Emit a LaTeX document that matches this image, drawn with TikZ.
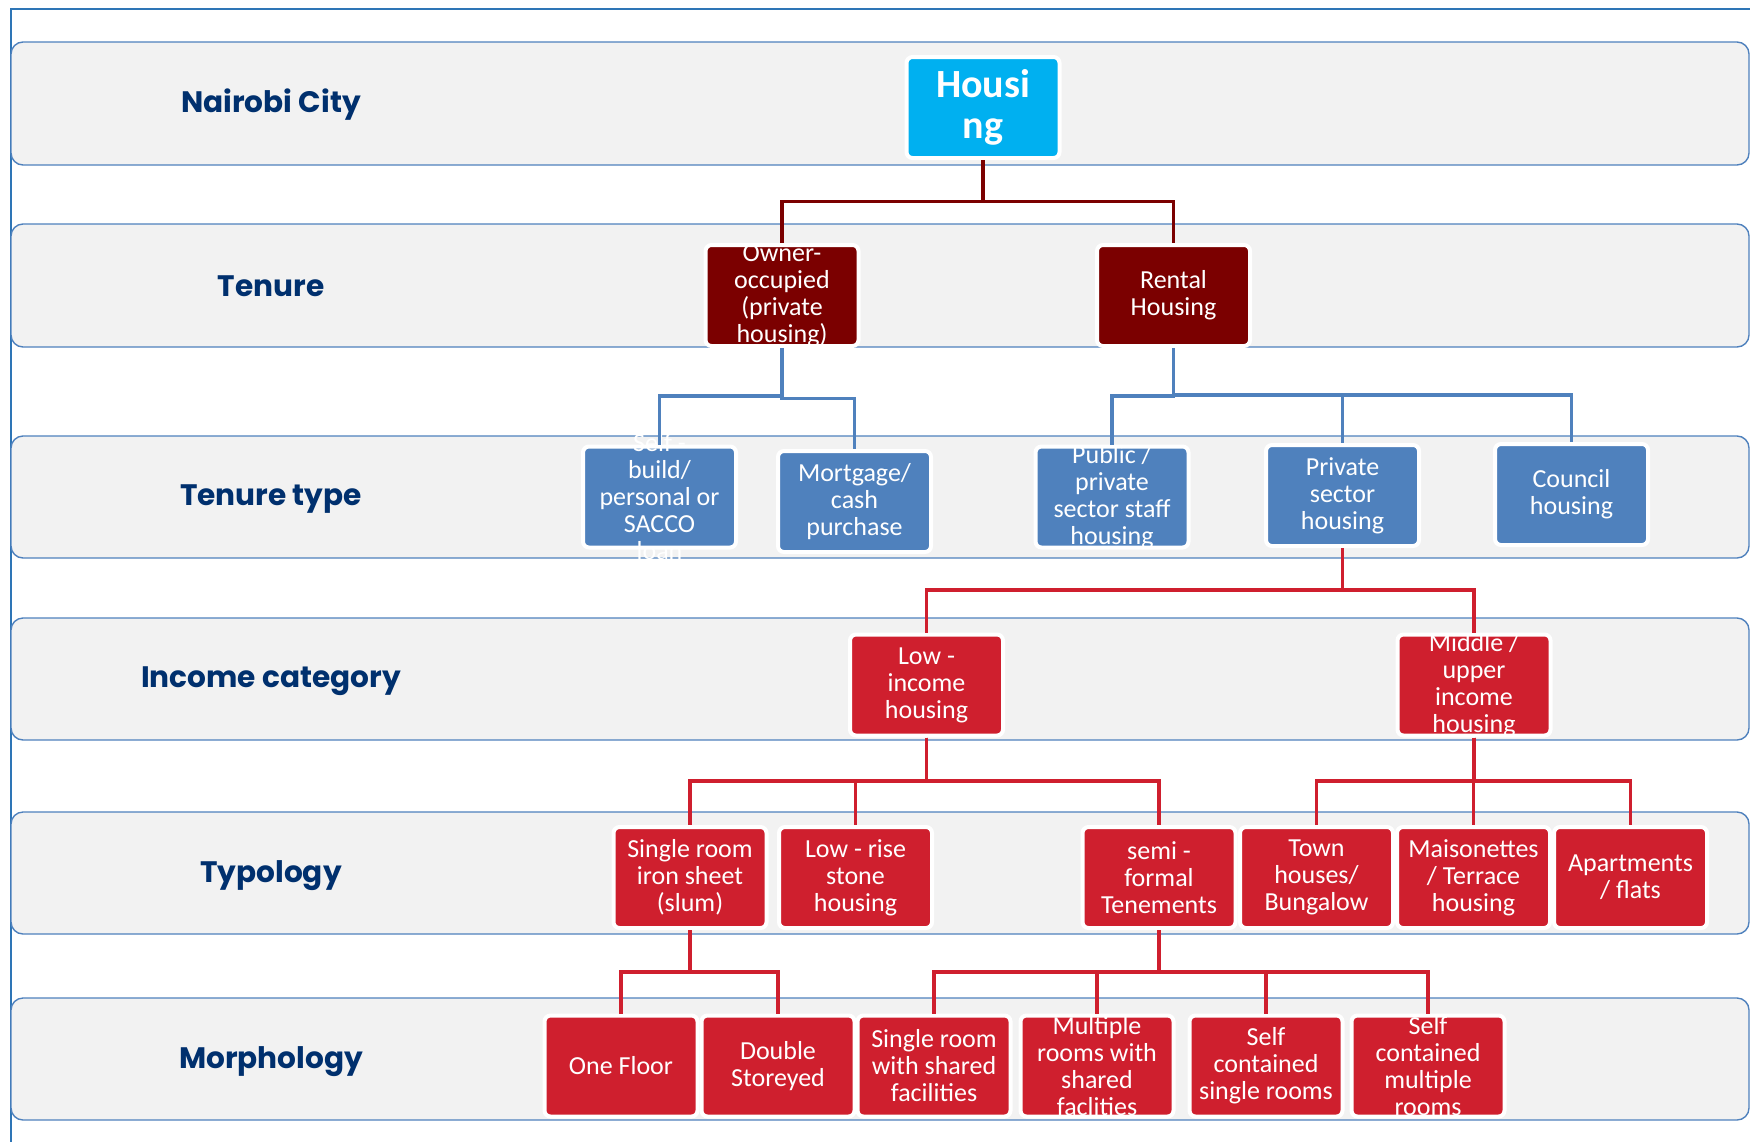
\documentclass[tikz,border=0pt]{standalone}
\usepackage{fontspec}
\setmainfont{Carlito}
\newfontfamily\rowfont{Poppins}
\usetikzlibrary{calc,positioning}
\definecolor{framebl}{HTML}{2E75B6}
\definecolor{bandline}{HTML}{4F81BD}
\definecolor{bandgrey}{HTML}{F2F2F2}
\definecolor{rowblue}{HTML}{00306E}
\definecolor{housecyan}{HTML}{00B0F0}
\definecolor{tenurered}{HTML}{7B0000}
\definecolor{typeblue}{HTML}{4F81BD}
\definecolor{incomered}{HTML}{CF1F2E}
\tikzstyle{band}=[draw=bandline, fill=bandgrey, line width=0.7pt, rounded corners=6pt]
\tikzstyle{rowlabel}=[text=rowblue, font=\rowfont\bfseries\fontsize{14.8}{18}\selectfont]
\tikzstyle{box}=[rectangle, draw=white, line width=2pt, rounded corners=3pt,
        minimum width=76.5pt, minimum height=50.5pt, inner sep=0pt]
\tikzstyle{boxtext}=[text=white, align=center, font=\fontsize{13}{13.5}\selectfont]
\tikzstyle{tie}=[line width=1.8pt]

\begin{document}
\begin{tikzpicture}[x=0.5pt, y=-0.5pt]
    \useasboundingbox (0,0) rectangle (1750,1141);
    \clip (0,0) rectangle (1750,1141);
    \draw[framebl, line width=1pt] (11,9) rectangle (1800,1200);

    % rows
    \draw[band] (11,42) rectangle (1749,165);
    \draw[band] (11,224) rectangle (1749,347);
    \draw[band] (11,436) rectangle (1749,558);
    \draw[band] (11,618) rectangle (1749,740);
    \draw[band] (11,812) rectangle (1749,934);
    \draw[band] (11,998) rectangle (1749,1120);

    \node (Row1) [rowlabel] at (271,105) {Nairobi City};
    \node (Row2) [rowlabel] at (271,286) {Tenure};
    \node (Row3) [rowlabel] at (271,499.5) {Tenure type};
    \node (Row4) [rowlabel] at (271,681.5) {Income category};
    \node (Row5) [rowlabel] at (271,875.5) {Typology};
    \node (Row6) [rowlabel] at (271,1062) {Morphology};

    % housing and tenure
    \node (Housing) [box, fill=housecyan, label={[boxtext, font=\bfseries\fontsize{20}{20.5}\selectfont]center:{Housi\\ng}}] at (983,107.5) {};

    \node (Owner) [box, fill=tenurered, label={[boxtext]center:{Owner-\\occupied\\(private\\housing)}}] at (782,295.5) {};
    \node (Rental) [box, fill=tenurered, label={[boxtext]center:{Rental\\Housing}}] at (1173.5,295.5) {};

    % tenure type
    \node (SelfBuild) [box, fill=typeblue, label={[boxtext]center:{Self -\\build/\\personal or\\SACCO\\loan}}] at (659.5,497) {};
    \node (Mortgage) [box, fill=typeblue, label={[boxtext]center:{Mortgage/\\cash\\purchase}}] at (854.5,501.5) {};
    \node (Staff) [box, fill=typeblue, label={[boxtext]center:{Public /\\private\\sector staff\\housing}}] at (1112,497) {};
    \node (PrivSector) [box, fill=typeblue, label={[boxtext]center:{Private\\sector\\housing}}] at (1342.5,495.5) {};
    \node (Council) [box, fill=typeblue, label={[boxtext]center:{Council\\housing}}] at (1571.5,494.5) {};

    % income
    \node (LowIncome) [box, fill=incomered, label={[boxtext]center:{Low -\\income\\housing}}] at (926.5,685) {};
    \node (MidIncome) [box, fill=incomered, label={[boxtext]center:{Middle /\\upper\\income\\housing}}] at (1474,685) {};

    % typology
    \node (Slum) [box, fill=incomered, label={[boxtext]center:{Single room\\iron sheet\\(slum)}}] at (690,877.5) {};
    \node (Stone) [box, fill=incomered, right=4.25pt of Slum, label={[boxtext]center:{Low - rise\\stone\\housing}}] {};
    \node (Tenement) [box, fill=incomered, label={[boxtext]center:{semi -\\formal\\Tenements}}] at (1159,877.5) {};
    \node (Town) [box, fill=incomered, right=0.25pt of Tenement, label={[boxtext]center:{Town\\houses/\\Bungalow}}] {};
    \node (Maison) [box, fill=incomered, right=0pt of Town, label={[boxtext]center:{Maisonettes\\/ Terrace\\housing}}] {};
    \node (Apart) [box, fill=incomered, right=0pt of Maison, label={[boxtext]center:{Apartments\\/ flats}}] {};

    % morphology
    \node (OneFloor) [box, fill=incomered, label={[boxtext]center:{One Floor}}] at (621,1066) {};
    \node (Double) [box, fill=incomered, right=0pt of OneFloor, label={[boxtext]center:{Double\\Storeyed}}] {};
    \node (SharedSingle) [box, fill=incomered, right=-0.5pt of Double, label={[boxtext]center:{Single room\\with shared\\facilities}}] {};
    \node (SharedMulti) [box, fill=incomered, right=3pt of SharedSingle, label={[boxtext]center:{Multiple\\rooms with\\shared\\faclities}}] {};
    \node (SelfSingle) [box, fill=incomered, right=6pt of SharedMulti, label={[boxtext]center:{Self\\contained\\single rooms}}] {};
    \node (SelfMulti) [box, fill=incomered, right=2.5pt of SelfSingle, label={[boxtext]center:{Self\\contained\\multiple\\rooms}}] {};

    % connectors
    \draw[tie, tenurered] (Housing.south) |- ($(Housing.south)!.5!(Owner.north)$) -| (Owner.north);
    \draw[tie, tenurered] (Housing.south) |- ($(Housing.south)!.5!(Rental.north)$) -| (Rental.north);

    \draw[tie, typeblue] (Owner.south) |- ($(Owner.south)!.5!(SelfBuild.north)$) -| (SelfBuild.north);
    \draw[tie, typeblue] (Owner.south) |- ($(Owner.south)!.5!(Mortgage.north)$) -| (Mortgage.north);
    \draw[tie, typeblue] (Rental.south) |- ($(Rental.south)!.5!(Staff.north)$) -| (Staff.north);
    \draw[tie, typeblue] (Rental.south) |- ($(Rental.south)!.5!(PrivSector.north)$) -| (PrivSector.north);
    \draw[tie, typeblue] (Rental.south) |- ($(Rental.south)!.5!(Council.north)$) -| (Council.north);

    \draw[tie, incomered] (PrivSector.south) |- ($(PrivSector.south)!.5!(LowIncome.north)$) -| (LowIncome.north);
    \draw[tie, incomered] (PrivSector.south) |- ($(PrivSector.south)!.5!(MidIncome.north)$) -| (MidIncome.north);

    \draw[tie, incomered] (LowIncome.south) |- ($(LowIncome.south)!.5!(Slum.north)$) -| (Slum.north);
    \draw[tie, incomered] (LowIncome.south) |- ($(LowIncome.south)!.5!(Stone.north)$) -| (Stone.north);
    \draw[tie, incomered] (LowIncome.south) |- ($(LowIncome.south)!.5!(Tenement.north)$) -| (Tenement.north);
    \draw[tie, incomered] (MidIncome.south) |- ($(MidIncome.south)!.5!(Town.north)$) -| (Town.north);
    \draw[tie, incomered] (MidIncome.south) |- ($(MidIncome.south)!.5!(Maison.north)$) -| (Maison.north);
    \draw[tie, incomered] (MidIncome.south) |- ($(MidIncome.south)!.5!(Apart.north)$) -| (Apart.north);

    \draw[tie, incomered] (Slum.south) |- ($(Slum.south)!.5!(OneFloor.north)$) -| (OneFloor.north);
    \draw[tie, incomered] (Slum.south) |- ($(Slum.south)!.5!(Double.north)$) -| (Double.north);
    \draw[tie, incomered] (Tenement.south) |- ($(Tenement.south)!.5!(SharedSingle.north)$) -| (SharedSingle.north);
    \draw[tie, incomered] (Tenement.south) |- ($(Tenement.south)!.5!(SharedMulti.north)$) -| (SharedMulti.north);
    \draw[tie, incomered] (Tenement.south) |- ($(Tenement.south)!.5!(SelfSingle.north)$) -| (SelfSingle.north);
    \draw[tie, incomered] (Tenement.south) |- ($(Tenement.south)!.5!(SelfMulti.north)$) -| (SelfMulti.north);

\end{tikzpicture}
\end{document}
